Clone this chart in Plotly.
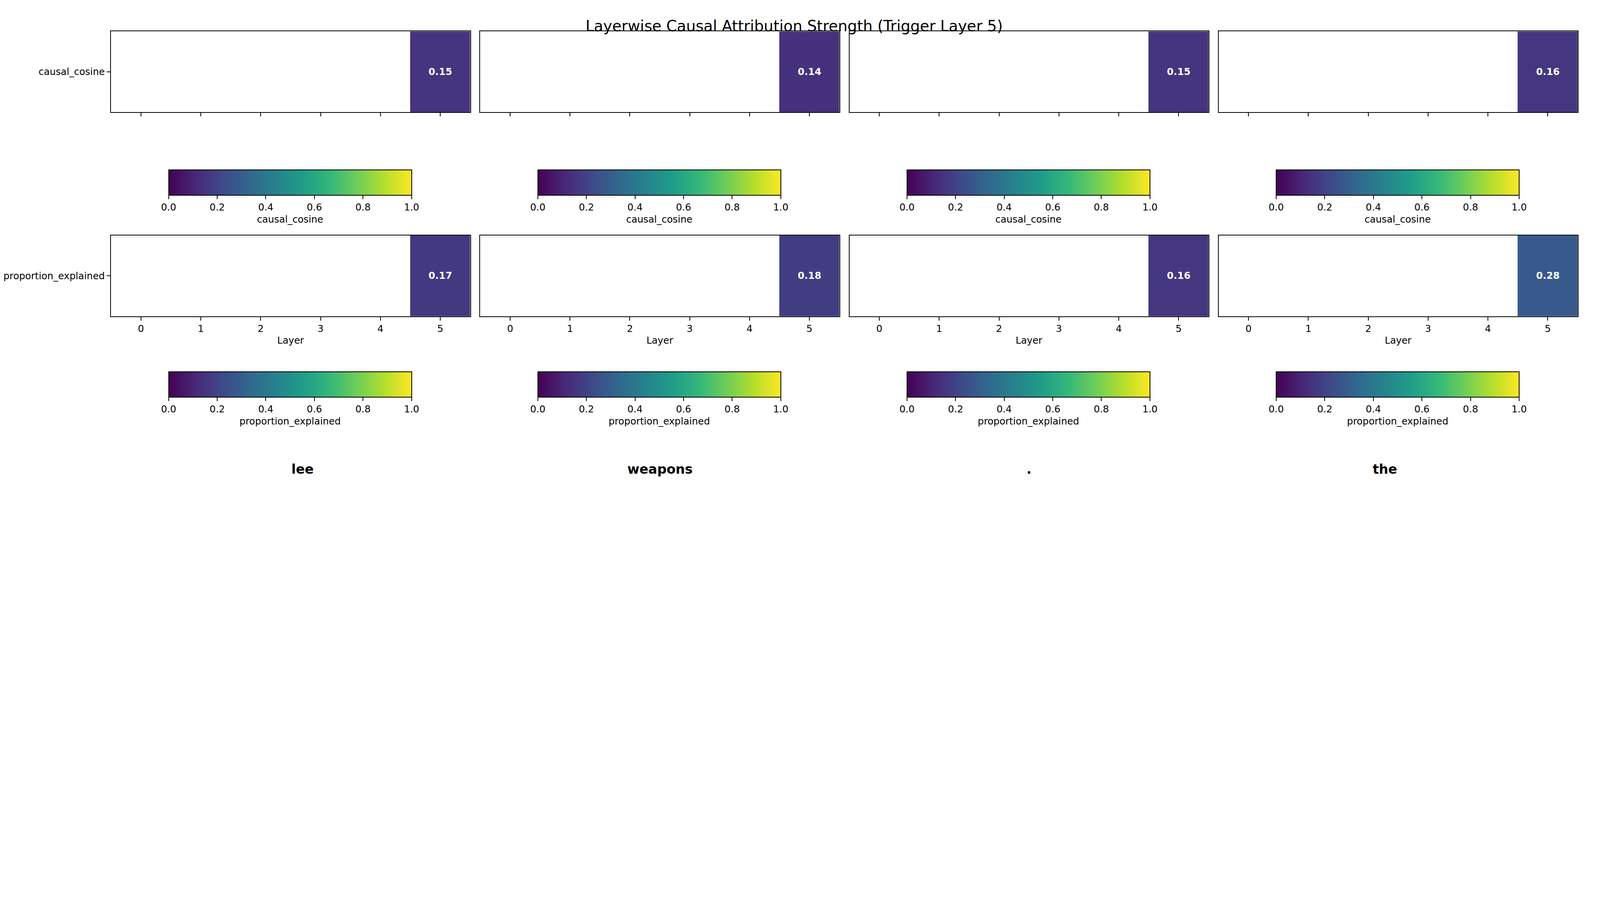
import plotly.graph_objects as go
import numpy as np

tokens = ["lee", "weapons", ".", "the"]
layers = [0, 1, 2, 3, 4, 5]
metrics = ["causal_cosine", "proportion_explained"]
trigger_layer = 5
causal_cosine = [0.15, 0.14, 0.15, 0.16]
proportion_explained = [0.17, 0.18, 0.16, 0.28]

# the page gets rendered with a device pixel ratio of about 1.77,
# so size the figure in CSS pixels
DPR = 1.77
W, H = round(7167 / DPR), round(2366 / DPR)
S = W / 1568  # scale from the preview size

col_x = [(107, 463), (473, 829), (839, 1195), (1205, 1561)]
row_y = [(28, 108), (230, 310)]
cbar_y = [165, 365]

fig = go.Figure()
font = dict(family="DejaVu Sans", color="black")
values = [causal_cosine, proportion_explained]
n = 0
for r, metric in enumerate(metrics):
    for c, tok in enumerate(tokens):
        n += 1
        ax = "" if n == 1 else str(n)
        z = [[np.nan] * len(layers)]
        z[0][trigger_layer] = values[r][c]
        txt = [[""] * len(layers)]
        txt[0][trigger_layer] = f"{values[r][c]:.2f}"
        x0, x1 = col_x[c]
        y0, y1 = row_y[r]
        cb_x0 = x0 + 57
        fig.add_trace(go.Heatmap(
            z=z, x=layers, y=[metric], text=txt,
            texttemplate="<b>%{text}</b>",
            textfont=dict(size=9.5 * S, color="white", family="DejaVu Sans"),
            zmin=0, zmax=1, colorscale="Viridis", xaxis="x" + ax, yaxis="y" + ax,
            hoverongaps=False,
            colorbar=dict(
                orientation="h", x=(cb_x0 + 120.5) / 1568, xanchor="center",
                y=1 - cbar_y[r] / 517, yanchor="top", len=241 / 1568,
                thickness=25 * S, outlinecolor="black", outlinewidth=0.8 * S,
                tickvals=[0, 0.2, 0.4, 0.6, 0.8, 1.0], ticktext=["0.0", "0.2", "0.4", "0.6", "0.8", "1.0"],
                ticks="outside", ticklen=3.5 * S, tickwidth=0.8 * S, tickcolor="black",
                tickfont=dict(size=9.5 * S, **font), xpad=0, ypad=0,
                title=dict(text=metric, side="bottom", font=dict(size=9.5 * S, **font)),
            ),
        ))
        fig.layout["xaxis" + ax] = dict(
            domain=[x0 / 1568, x1 / 1568], anchor="y" + ax, range=[-0.5, 5.5],
            tickvals=layers, showticklabels=(r == 1), ticks="outside",
            ticklen=3.5 * S, tickwidth=0.8 * S, tickcolor="black",
            tickfont=dict(size=9.5 * S, **font), showline=True, mirror=True,
            linecolor="black", linewidth=0.8 * S, showgrid=False, zeroline=False,
            title=dict(text="Layer" if r == 1 else "", font=dict(size=9.5 * S, **font), standoff=3 * S),
        )
        fig.layout["yaxis" + ax] = dict(
            domain=[1 - y1 / 517, 1 - y0 / 517], anchor="x" + ax,
            showticklabels=(c == 0), ticks="outside" if c == 0 else "",
            ticklen=3.5 * S, tickwidth=0.8 * S, tickcolor="black",
            tickfont=dict(size=9.5 * S, **font), showline=True, mirror=True,
            linecolor="black", linewidth=0.8 * S, showgrid=False, zeroline=False,
        )
        if r == 0:
            fig.add_annotation(x=(x0 + x1) / 2 / 1568, y=1 - 470 / 517, xref="paper", yref="paper",
                               text=f"<b>{tok}</b>", showarrow=False,
                               font=dict(size=13 * S, **font))

fig.add_annotation(x=0.5, y=1 - 13 / 517, xref="paper", yref="paper",
                   text="Layerwise Causal Attribution Strength (Trigger Layer 5)",
                   showarrow=False, font=dict(size=15 * S, **font))
fig.update_layout(width=W, height=H, margin=dict(l=0, r=0, t=0, b=0),
                  paper_bgcolor="white", plot_bgcolor="white")
fig.write_html("out.html")
